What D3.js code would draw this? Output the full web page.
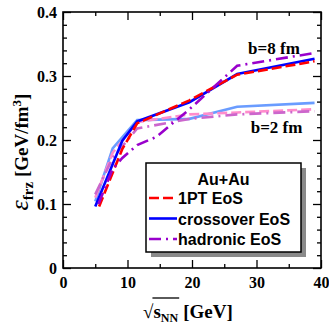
<!DOCTYPE html>
<meta charset="utf-8">
<title>Freeze-out energy density</title>
<style>
body { margin: 0; background: #fff; }
.tick text { font-family: "Liberation Serif", "Times New Roman", serif; font-weight: bold; font-size: 16px; fill: #000; }
.tick line { stroke: #000; stroke-width: 1.3px; }
.curve { fill: none; stroke-width: 2.6; }
.leg text { font-family: "Liberation Sans", Arial, sans-serif; font-weight: bold; font-size: 16px; }
</style>
<body>
<script src="https://d3js.org/d3.v7.min.js"></script>
<script>

// sqrt(s_NN) values and freeze-out energy density (GeV/fm^3)
// b = 8 fm
var b8_1pt_x   = [5.6, 9.2, 11.5, 19.6, 27, 39];
var b8_1pt_y   = [0.096, 0.186, 0.226, 0.262, 0.302, 0.323];
var b8_cross_x = [5, 9.2, 11.5, 19.6, 27, 39];
var b8_cross_y = [0.096, 0.199, 0.229, 0.259, 0.303, 0.327];
var b8_had_x   = [5.5, 7.7, 9.2, 11.5, 14.5, 19.6, 27, 39];
var b8_had_y   = [0.100, 0.155, 0.172, 0.192, 0.205, 0.248, 0.316, 0.336];
// b = 2 fm
var b2_1pt_x   = [5, 7.7, 11.5, 19.6, 27, 39];
var b2_1pt_y   = [0.110, 0.180, 0.228, 0.240, 0.243, 0.248];
var b2_cross_x = [5, 7.7, 11.5, 19.6, 27, 39];
var b2_cross_y = [0.104, 0.187, 0.231, 0.233, 0.252, 0.258];
var b2_had_x   = [5, 7.7, 11.5, 19.6, 27, 39];
var b2_had_y   = [0.115, 0.172, 0.218, 0.233, 0.240, 0.245];

var xTicks = [0, 10, 20, 30, 40];
var yTicks = [0, 0.1, 0.2, 0.3, 0.4];
var legendLabels = ["1PT EoS", "crossover EoS", "hadronic EoS"];

var W = 329, H = 324;
var margin = {top: 12, right: 8, bottom: 56, left: 63};

var svg = d3.select("body").append("svg")
    .attr("width", W)
    .attr("height", H);

var x = d3.scaleLinear().domain([0, 40]).range([margin.left, W - margin.right]);
var y = d3.scaleLinear().domain([0, 0.4]).range([H - margin.bottom, margin.top]);

var dashed = "10,4", dashdot = "12,5,2,5";

var series = [
  {xs: b2_cross_x, ys: b2_cross_y, color: "#6a9cff", dash: null},
  {xs: b2_1pt_x,   ys: b2_1pt_y,   color: "#ff8ccc", dash: dashed},
  {xs: b2_had_x,   ys: b2_had_y,   color: "#cc66cc", dash: dashdot},
  {xs: b8_cross_x, ys: b8_cross_y, color: "#0000ff", dash: null},
  {xs: b8_1pt_x,   ys: b8_1pt_y,   color: "#ff0000", dash: dashed},
  {xs: b8_had_x,   ys: b8_had_y,   color: "#9900cc", dash: dashdot}
];

var line = d3.line()
    .x(function(d) { return x(d[0]); })
    .y(function(d) { return y(d[1]); });

svg.append("g").selectAll("path")
    .data(series)
  .enter().append("path")
    .attr("class", "curve")
    .attr("d", function(s) { return line(d3.zip(s.xs, s.ys)); })
    .style("stroke", function(s) { return s.color; })
    .style("stroke-dasharray", function(s) { return s.dash; });

// axes, ticks pointing inward
var plotB = H - margin.bottom, plotT = margin.top, plotL = margin.left, plotR = W - margin.right;

function noDomain(g) { g.select(".domain").remove(); }

svg.append("g").attr("transform", "translate(0," + plotB + ")")
    .call(d3.axisBottom(x).tickValues(d3.range(5, 40, 10)).tickSize(-4).tickFormat(""))
    .call(noDomain);
svg.append("g").attr("transform", "translate(0," + plotB + ")")
    .call(d3.axisBottom(x).tickValues(xTicks).tickSize(-8).tickPadding(9).tickFormat(d3.format("d")))
    .call(noDomain);
svg.append("g").attr("transform", "translate(0," + plotT + ")")
    .call(d3.axisTop(x).tickValues(d3.range(5, 40, 10)).tickSize(-4).tickFormat(""))
    .call(noDomain);
svg.append("g").attr("transform", "translate(0," + plotT + ")")
    .call(d3.axisTop(x).tickValues(xTicks).tickSize(-8).tickFormat(""))
    .call(noDomain);

var yMinor = d3.range(0.02, 0.4, 0.02).filter(function(v) { return Math.abs(v * 10 - Math.round(v * 10)) > 1e-6; });
svg.append("g").attr("transform", "translate(" + plotL + ",0)")
    .call(d3.axisLeft(y).tickValues(yMinor).tickSize(-4).tickFormat(""))
    .call(noDomain);
svg.append("g").attr("transform", "translate(" + plotL + ",0)")
    .call(d3.axisLeft(y).tickValues(yTicks).tickSize(-8).tickPadding(6)
      .tickFormat(function(d) { return d === 0 ? "0" : d3.format(".1f")(d); }))
    .call(noDomain);
svg.append("g").attr("transform", "translate(" + plotR + ",0)")
    .call(d3.axisRight(y).tickValues(yMinor).tickSize(-4).tickFormat(""))
    .call(noDomain);
svg.append("g").attr("transform", "translate(" + plotR + ",0)")
    .call(d3.axisRight(y).tickValues(yTicks).tickSize(-8).tickFormat(""))
    .call(noDomain);

svg.append("rect")
    .attr("x", plotL).attr("y", plotT)
    .attr("width", plotR - plotL).attr("height", plotB - plotT)
    .attr("fill", "none").attr("stroke", "#000").attr("stroke-width", 1.6);

// b annotations
var serif = "'Liberation Serif', 'Times New Roman', serif";
svg.append("text").attr("x", x(28.7)).attr("y", y(0.335))
    .style("font-family", serif).style("font-weight", "bold").style("font-size", "17px")
    .text("b=8 fm");
svg.append("text").attr("x", x(29.1)).attr("y", y(0.211))
    .style("font-family", serif).style("font-weight", "bold").style("font-size", "17px")
    .text("b=2 fm");

// legend
var leg = svg.append("g").attr("class", "leg");
var lx0 = 146, ly0 = 163, lw = 155, lh = 89;
leg.append("rect").attr("x", lx0 + 5).attr("y", ly0 + 5).attr("width", lw).attr("height", lh)
    .attr("fill", "#8a8a8a");
leg.append("rect").attr("x", lx0).attr("y", ly0).attr("width", lw).attr("height", lh)
    .attr("fill", "#fff").attr("stroke", "#000").attr("stroke-width", 1.5);
leg.append("text").attr("x", lx0 + lw / 2).attr("y", ly0 + 22)
    .attr("text-anchor", "middle").text("Au+Au");

var legOrder = [series[4], series[3], series[5]];
legOrder.forEach(function(s, i) {
  var yy = ly0 + 35 + i * 20.5;
  leg.append("line").attr("x1", lx0 + 3).attr("x2", lx0 + 31)
      .attr("y1", yy).attr("y2", yy)
      .style("stroke", s.color).style("stroke-width", 2.6)
      .style("stroke-dasharray", s.dash);
  leg.append("text").attr("x", lx0 + 32).attr("y", yy + 6).text(legendLabels[i]);
});

// y axis title
var yt = svg.append("text")
    .attr("transform", "translate(28," + 152 + ") rotate(-90)")
    .attr("text-anchor", "middle")
    .style("font-family", serif).style("font-weight", "bold").style("font-size", "19px");
yt.append("tspan").style("font-style", "italic").style("font-size", "26px").style("font-weight", "normal").text("ε");
yt.append("tspan").attr("dy", 5).style("font-size", "15px").text("frz");
yt.append("tspan").attr("dy", -5).text(" [GeV/fm");
yt.append("tspan").attr("dy", -7).style("font-size", "13px").text("3");
yt.append("tspan").attr("dy", 7).text("]");

// x axis title: sqrt(s_NN) [GeV]
var xt = svg.append("g").style("font-family", serif).style("font-weight", "bold");
var xl = 143, xb = 318;
var sq = xt.append("text").attr("x", xl).attr("y", xb).style("font-size", "19px").style("font-weight", "normal").text("√");
var sqW = sq.node().getComputedTextLength();
var s1 = xt.append("text").attr("x", xl + sqW).attr("y", xb).style("font-size", "19px").text("s");
var sW = s1.node().getComputedTextLength();
var nn = xt.append("text").attr("x", xl + sqW + sW).attr("y", xb + 4).style("font-size", "12px").text("NN");
var nW = nn.node().getComputedTextLength();
xt.append("line").attr("x1", xl + sqW - 1).attr("x2", xl + sqW + sW + nW + 1)
    .attr("y1", xb - 20).attr("y2", xb - 20).attr("stroke", "#000").attr("stroke-width", 1.3);
xt.append("text").attr("x", xl + sqW + sW + nW + 5).attr("y", xb).style("font-size", "19px").text("[GeV]");

</script>
</body>
